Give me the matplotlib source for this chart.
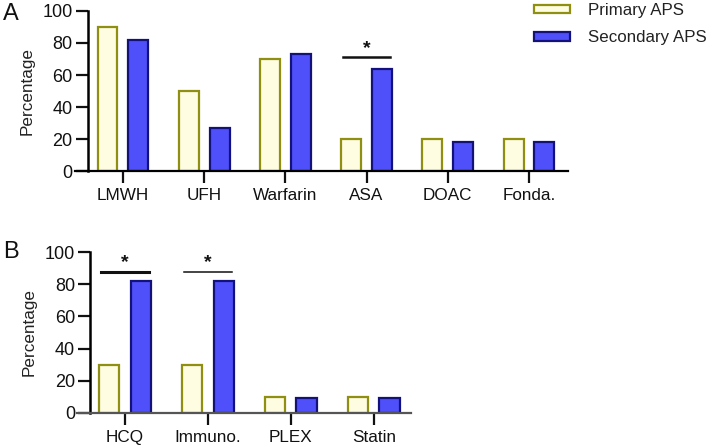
import matplotlib.pyplot as plt
import numpy as np
from matplotlib.patches import Patch

plt.rcParams['font.family'] = ['Liberation Sans', 'DejaVu Sans']

# Panel A: anticoagulant / antiplatelet use
drugs_a = ["LMWH", "UFH", "Warfarin", "ASA", "DOAC", "Fonda."]
primary_a = [90, 50, 70, 20, 20, 20]
secondary_a = [82, 27, 73, 64, 18, 18]

# Panel B: other treatments
drugs_b = ["HCQ", "Immuno.", "PLEX", "Statin"]
primary_b = [30, 30, 10, 10]
secondary_b = [82, 82, 9, 9]

# significance bars: (category index, height)
sig_a = [(3, 71)]
sig_b = [(0, 88), (1, 88)]

yellow_fill = "#FEFDE2"
yellow_edge = "#8F8F12"
blue_fill = "#5050FA"
blue_edge = "#12127A"

off = 0.19
w = 0.245

fig = plt.figure(figsize=(7.08, 4.47), dpi=100)
ax_a = fig.add_axes([75 / 708, 1 - 171 / 447, 493 / 708, 160 / 447])
ax_b = fig.add_axes([77 / 708, 1 - 412.7 / 447, 334 / 708, 160.4 / 447])


def draw(ax, cats, prim, sec, sigs, yspine, xlim, sig_lw):
    x = np.arange(len(cats))
    ax.bar(x - off, prim, w, color=yellow_fill, edgecolor=yellow_edge, linewidth=1.6)
    ax.bar(x + off, sec, w, color=blue_fill, edgecolor=blue_edge, linewidth=1.6)
    ax.set_xlim(*xlim)
    ax.set_ylim(0, 100)
    ax.set_xticks(x)
    ax.set_xticklabels(cats)
    ax.set_yticks([0, 20, 40, 60, 80, 100])
    for s in ["top", "right"]:
        ax.spines[s].set_visible(False)
    ax.spines["left"].set_position(("data", yspine))
    ax.spines["left"].set_linewidth(1.8)
    ax.spines["bottom"].set_linewidth(1.6)
    ax.tick_params(axis="y", length=9, width=1.6, labelsize=13, pad=2, colors="#111111")
    ax.tick_params(axis="x", length=8.5, width=1.6, labelsize=12.3, pad=4, colors="#111111")
    ax.set_ylabel("Percentage", fontsize=12.3, color="#222222", labelpad=6)
    for (i, h), lw in zip(sigs, sig_lw):
        ax.plot([i - off - w / 2 + 0.02, i + off + w / 2 - 0.02], [h, h],
                color="#111111", lw=lw, clip_on=False)
        ax.text(i, h + 0.5, "*", ha="center", va="bottom", fontsize=14,
                fontweight="bold", color="#111111")


draw(ax_a, drugs_a, primary_a, secondary_a, sig_a, -0.43, (-0.59, 5.48), [1.8])
draw(ax_b, drugs_b, primary_b, secondary_b, sig_b, -0.42, (-0.58, 3.45), [2.2, 1.1])
ax_b.spines["bottom"].set_color("#555555")

fig.text(3 / 708, 1 - 20 / 447, "A", fontsize=17, color="#111111")
fig.text(3 / 708, 1 - 258 / 447, "B", fontsize=17, color="#111111")

handles = [
    Patch(facecolor=yellow_fill, edgecolor=yellow_edge, linewidth=1.6, label="Primary APS"),
    Patch(facecolor=blue_fill, edgecolor=blue_edge, linewidth=1.6, label="Secondary APS"),
]
fig.legend(handles=handles, loc="upper left", bbox_to_anchor=(534 / 708, 1 - 3 / 447),
           frameon=False, fontsize=12.2, handlelength=2.1, handleheight=0.42,
           handletextpad=1.1, labelspacing=0.72, borderpad=0, borderaxespad=0,
           labelcolor="#222222")

fig.savefig("out.png", dpi=100)
